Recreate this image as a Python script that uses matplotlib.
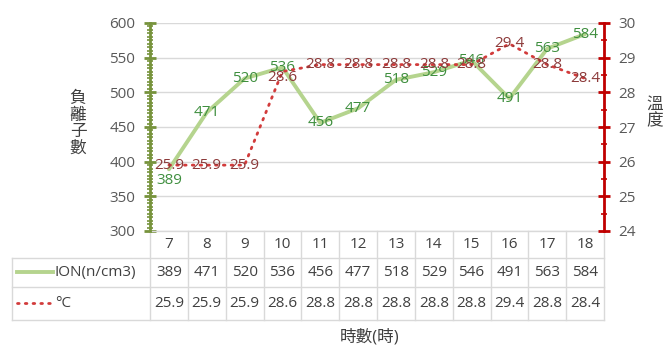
import matplotlib.pyplot as plt
from matplotlib.transforms import blended_transform_factory
from matplotlib.ticker import MultipleLocator

plt.rcParams['font.family'] = ['Open Sans', 'Noto Sans CJK TC', 'DejaVu Sans']

# 每小時資料
hours = [7, 8, 9, 10, 11, 12, 13, 14, 15, 16, 17, 18]
ion = [389, 471, 520, 536, 456, 477, 518, 529, 546, 491, 563, 584]
temp = [25.9, 25.9, 25.9, 28.6, 28.8, 28.8, 28.8, 28.8, 28.8, 29.4, 28.8, 28.4]

ion_line = '#B5D48E'
ion_text = '#3F8F3F'
temp_line = '#D23B3B'
temp_text = '#8C3A3A'
axis_green = '#77933C'
axis_red = '#C00000'
grid_c = '#D9D9D9'
text_c = '#595959'
fs = 11

W, H = 670, 347
fig = plt.figure(figsize=(W / 100, H / 100), dpi=100)
ax = fig.add_axes([150 / W, 1 - 231 / H, 454 / W, 208 / H])
ax2 = ax.twinx()

x = list(range(len(hours)))
ax.plot(x, ion, color=ion_line, lw=2.8, zorder=3, solid_capstyle='round')
ax2.plot(x, temp, color=temp_line, lw=2, ls=(0, (0.6, 2.2)), dash_capstyle='round', zorder=3)

ax.set_xlim(-0.5, len(hours) - 0.5)
ax.set_ylim(300, 600)
ax2.set_ylim(24, 30)
ax.set_xticks([])

# 左軸(負離子)
ax.yaxis.set_major_locator(MultipleLocator(50))
ax.yaxis.set_minor_locator(MultipleLocator(5))
ax.tick_params(axis='y', which='major', direction='inout', length=9, width=2,
               color=axis_green, labelcolor=text_c, labelsize=fs, pad=6)
ax.tick_params(axis='y', which='minor', direction='inout', length=5, width=1.2, color=axis_green)
ax.grid(axis='y', which='major', color=grid_c, lw=1)
ax.set_axisbelow(True)

# 右軸(溫度)
ax2.yaxis.set_major_locator(MultipleLocator(1))
ax2.yaxis.set_minor_locator(MultipleLocator(0.5))
ax2.tick_params(axis='y', which='major', direction='inout', length=9, width=2,
                color=axis_red, labelcolor=text_c, labelsize=fs, pad=6)
ax2.tick_params(axis='y', which='minor', direction='inout', length=5, width=1.2, color=axis_red)

for a in (ax, ax2):
    for side in ('top', 'bottom', 'left', 'right'):
        a.spines[side].set_visible(False)
ax.spines['left'].set_visible(True)
ax.spines['left'].set_color(axis_green)
ax.spines['left'].set_linewidth(2)
ax2.spines['right'].set_visible(True)
ax2.spines['right'].set_color(axis_red)
ax2.spines['right'].set_linewidth(2)

# 數據標籤
for i, v in enumerate(ion):
    dy = -8 if i == 0 else 0
    ax.annotate(str(v), (i, v), xytext=(0, dy), textcoords='offset points',
                ha='center', va='center', color=ion_text, fontsize=fs, zorder=5)
for i, v in enumerate(temp):
    dy = -4 if i == 3 else 0
    ax2.annotate(f'{v:.1f}', (i, v), xytext=(0, dy), textcoords='offset points',
                 ha='center', va='center', color=temp_text, fontsize=fs, zorder=5)

# 下方資料表
tr = blended_transform_factory(ax.transData, ax.transAxes)
px = 1 / 37.833  # 每像素對應的資料寬度
left_x = -0.5 - 138 * px
row_y = [0, -27 / 208, -55.7 / 208, -89 / 208]
line_kw = dict(color='#D9D9D9', lw=1, transform=tr, clip_on=False)
n = len(hours)
ax.plot([-0.5, n - 0.5], [row_y[0]] * 2, **line_kw)
for y in row_y[1:]:
    ax.plot([left_x, n - 0.5], [y, y], **line_kw)
for k in range(n + 1):
    ax.plot([k - 0.5, k - 0.5], [row_y[0], row_y[3]], **line_kw)
ax.plot([left_x, left_x], [row_y[1], row_y[3]], **line_kw)

mid = [(row_y[i] + row_y[i + 1]) / 2 for i in range(3)]
tbl_c = '#404040'
for i in range(n):
    ax.text(i, mid[0], str(hours[i]), transform=tr, ha='center', va='center',
            color=tbl_c, fontsize=fs, clip_on=False)
    ax.text(i, mid[1], str(ion[i]), transform=tr, ha='center', va='center',
            color=tbl_c, fontsize=fs, clip_on=False)
    ax.text(i, mid[2], f'{temp[i]:.1f}', transform=tr, ha='center', va='center',
            color=tbl_c, fontsize=fs, clip_on=False)

# 圖例樣本
s0, s1 = left_x + 5 * px, left_x + 41 * px
ax.plot([s0, s1], [mid[1]] * 2, color=ion_line, lw=2.8, transform=tr, clip_on=False)
ax.plot([s0, s1], [mid[2]] * 2, color=temp_line, lw=2, ls=(0, (0.6, 2.2)),
        dash_capstyle='round', transform=tr, clip_on=False)
ax.text(s1 + 2 * px, mid[1], 'ION(n/cm3)', transform=tr, ha='left', va='center',
        color=tbl_c, fontsize=fs, clip_on=False)
ax.text(s1 + 2 * px, mid[2], '°C', transform=tr, ha='left', va='center',
        color=tbl_c, fontsize=fs, clip_on=False)

# 軸標題
fig.text(78 / W, 1 - 124 / H, '\n'.join('負離子數'), ha='center', va='center',
         color=tbl_c, fontsize=12, linespacing=1.05)
fig.text(655 / W, 1 - 113 / H, '\n'.join('溫度'), ha='center', va='center',
         color=tbl_c, fontsize=12, linespacing=1.05)
fig.text(370 / W, 1 - 337 / H, '時數(時)', ha='center', va='center',
         color=tbl_c, fontsize=12)

fig.savefig('out.png', dpi=100)
